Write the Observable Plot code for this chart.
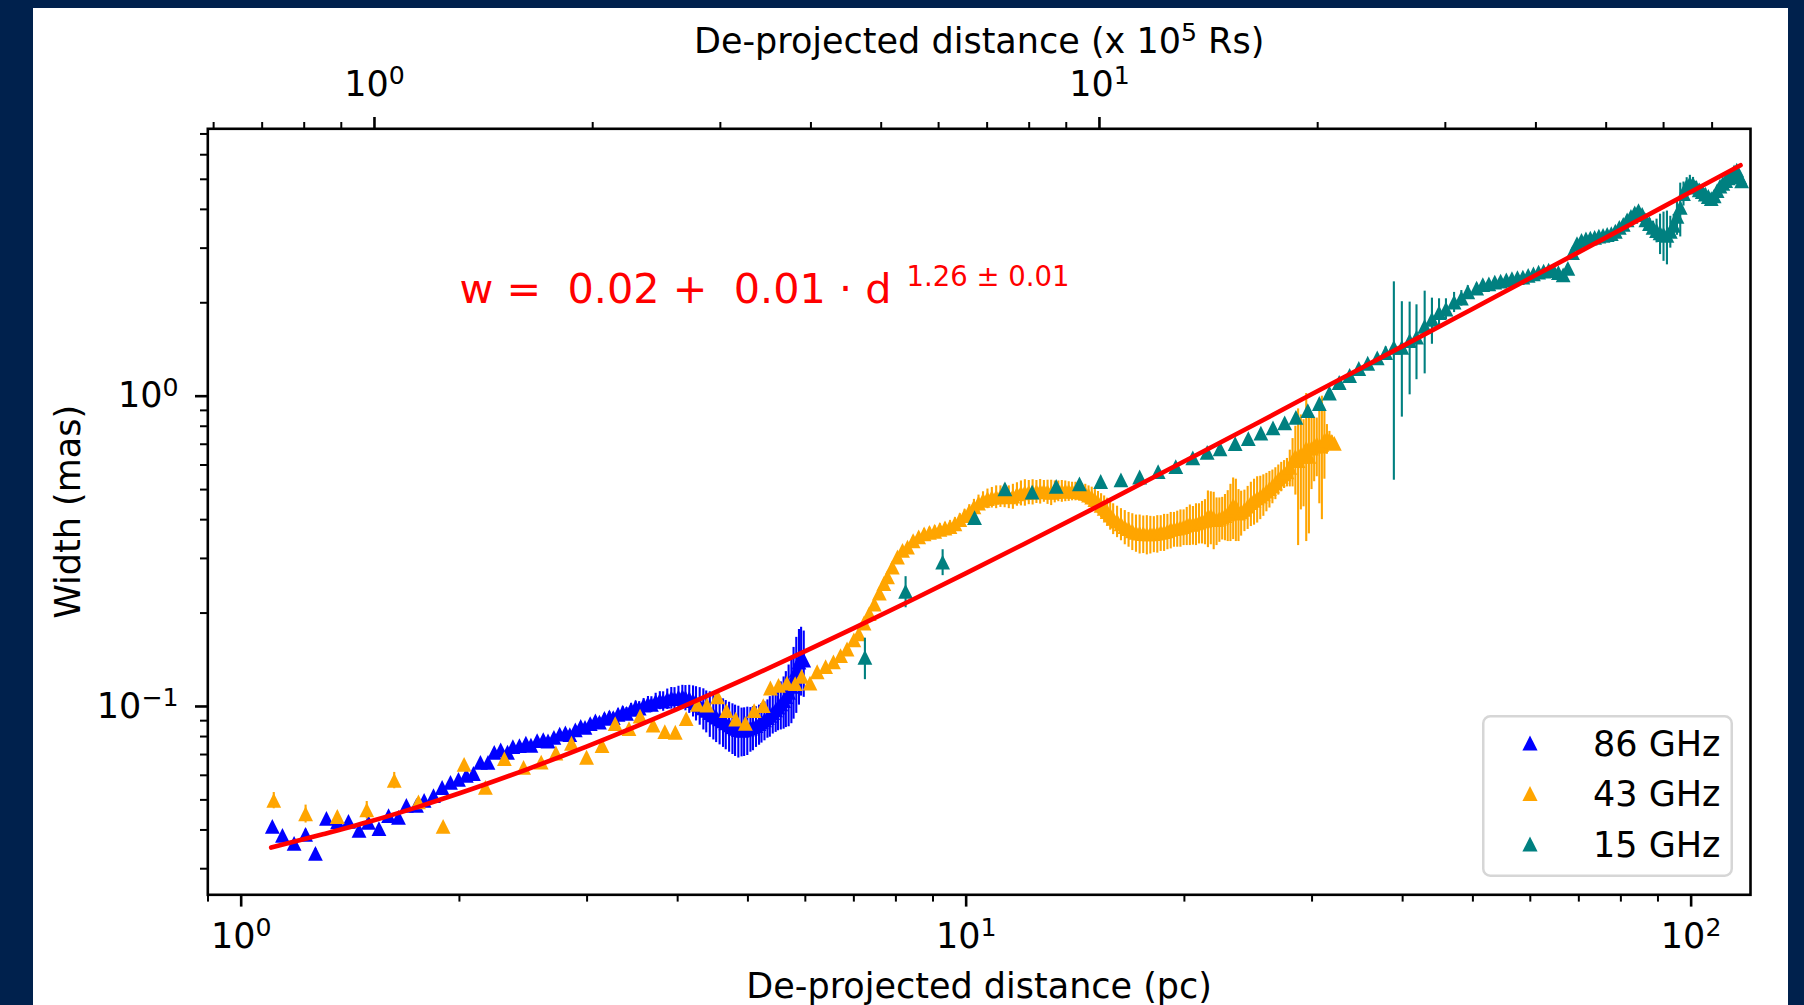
<!DOCTYPE html>
<html>
<head>
<meta charset="utf-8">
<title>Jet width vs de-projected distance</title>
<script src="https://cdn.jsdelivr.net/npm/d3@7"></script>
<script src="https://cdn.jsdelivr.net/npm/@observablehq/plot@0.6"></script>
<style>
  html, body { margin: 0; padding: 0; background: #00214d; overflow: hidden; }
  #wrap { position: relative; width: 1804px; height: 1005px; }
  #panel { position: absolute; left: 33px; top: 8px; width: 1755px; height: 997px; background: #ffffff; }
  #chart { position: absolute; left: 0; top: 0; }
  #legend { position: absolute; left: 1482px; top: 715px; }
</style>
</head>
<body>
<div id="wrap"><div id="panel"></div><div id="chart"></div><svg id="legend" width="251" height="162"></svg></div>
<script>
const FONT = "DejaVu Sans";
const seriesNames = ["86 GHz", "43 GHz", "15 GHz"];
const seriesColors = ["#0000ff", "#ffa500", "#008080"];
const fitColor = "#ff0000";

// ---- 86 GHz ----
const blueDist = [1.104,1.140,1.183,1.227,1.266,1.311,1.358,1.406,1.454,1.498,1.549,1.597,1.648,1.690,1.745,1.788,1.842,1.893,1.944,1.994,2.044,2.091,2.138,2.190,2.234,
  2.28,2.33,2.37,2.42,2.47,2.51,2.56,2.61,2.65,2.70,2.75,2.80,2.84,2.89,2.94,2.98,3.03,3.08,3.12,3.17,3.22,3.26,3.31,3.36,3.40,3.45,3.50,3.54,3.59,3.64,
  3.68,3.73,3.78,3.82,3.87,3.92,3.96,4.01,4.06,4.10,4.15,4.20,4.24,4.29,4.34,4.38,4.43,4.48,4.52,4.57,4.62,4.66,4.71,4.76,4.80,4.85,4.90,4.94,4.99,5.04,
  5.08,5.13,5.18,5.22,5.27,5.32,5.36,5.41,5.46,5.50,5.55,5.60,5.64,5.69,5.74,5.78,5.83,5.88,5.92,5.97];
const blueWidth = [0.0411,0.0384,0.0362,0.0387,0.0336,0.0436,0.0425,0.0426,0.0399,0.0423,0.0404,0.0445,0.0439,0.0480,0.0480,0.0498,0.0516,0.0548,0.0569,0.0582,0.0600,0.0608,0.0660,0.0660,0.0711,
  0.0725,0.0712,0.0742,0.0748,0.0762,0.0750,0.0776,0.0782,0.0774,0.0795,0.0815,0.0822,0.0812,0.0840,0.0862,0.0856,0.0880,0.0898,0.0890,0.0915,0.0926,0.0920,0.0944,0.0958,0.0950,0.0978,0.0995,0.0988,0.1010,0.1022,
  0.1015,0.1038,0.1046,0.1040,0.1058,0.1066,0.1060,0.1072,0.1075,0.1068,0.1060,0.1045,0.1028,0.1010,0.0990,0.0972,0.0955,0.0940,0.0925,0.0912,0.0898,0.0885,0.0872,0.0860,0.0850,0.0842,0.0838,0.0840,0.0845,0.0852,
  0.0860,0.0868,0.0880,0.0892,0.0905,0.0920,0.0936,0.0955,0.0975,0.0995,0.1020,0.1045,0.1075,0.1110,0.1160,0.1230,0.1310,0.1390,0.1440,0.1410];
const blueErr = [0.0012,0.0012,0.0012,0.0015,0.0012,0.0012,0.0012,0.0012,0.0012,0.0012,0.0012,0.0012,0.0012,0.0012,0.0012,0.0012,0.0012,0.0014,0.0014,0.0014,0.0015,0.0015,0.0015,0.0016,0.0016,
  0.0018,0.0018,0.0020,0.0020,0.0020,0.0020,0.0022,0.0022,0.0022,0.0024,0.0024,0.0025,0.0025,0.0026,0.0028,0.0028,0.0030,0.0030,0.0032,0.0034,0.0035,0.0036,0.0038,0.0040,0.0042,0.0044,0.0046,0.0048,0.0050,0.0055,
  0.0060,0.0065,0.0070,0.0075,0.0080,0.0085,0.0090,0.0090,0.0095,0.0100,0.0110,0.0120,0.0130,0.0140,0.0150,0.0150,0.0160,0.0160,0.0160,0.0160,0.0160,0.0160,0.0160,0.0160,0.0160,0.0160,0.0150,0.0150,0.0150,0.0140,
  0.0140,0.0130,0.0130,0.0130,0.0130,0.0130,0.0140,0.0140,0.0150,0.0160,0.0180,0.0200,0.0220,0.0250,0.0280,0.0320,0.0360,0.0380,0.0360,0.0340];

// ---- 43 GHz ----
const orangeDist = [1.109,1.227,1.357,1.490,1.626,1.756,1.899,2.030,2.172,2.307,2.452,2.593,2.717,2.855,2.995,3.146,3.280,3.427,3.550,3.700,3.840,3.970,4.110,4.260,4.390,4.540,4.670,4.810,4.960,5.100,5.250,5.370,5.510,5.660,5.810,5.930,6.090,6.230,6.400,6.560,6.710,6.850,7.000,7.110,7.230,7.350,7.470,7.590,7.700,7.790,7.910,8.040,8.170,8.300,
  8.45,8.60,8.75,8.90,9.05,9.20,9.35,9.50,9.65,9.80,9.95,10.10,10.25,10.40,10.55,10.70,10.85,11.00,11.15,11.30,11.45,11.60,11.75,11.90,12.05,12.20,12.35,12.50,12.65,12.80,12.95,13.10,13.25,13.40,13.55,13.70,13.85,14.00,14.15,14.30,14.45,14.60,14.75,14.90,15.05,15.20,15.35,15.50,15.65,15.80,15.95,
  16.15,16.35,16.55,16.75,16.95,17.15,17.35,17.55,17.75,17.95,18.15,18.35,18.55,18.75,18.95,19.15,19.35,19.55,19.75,19.95,20.15,20.35,20.55,20.75,20.95,21.15,21.35,21.55,21.75,21.95,22.15,22.35,22.55,22.75,22.95,23.15,23.35,23.55,23.75,23.95,
  24.20,24.45,24.70,24.95,25.20,25.45,25.70,25.95,26.20,26.45,26.70,26.95,27.20,27.45,27.70,27.95,28.20,28.45,28.70,28.95,29.20,29.45,29.70,29.95,30.20,30.45,30.70,30.95,31.20,31.45,31.70,31.95,32.20];
const orangeWidth = [0.0498,0.0451,0.0442,0.0464,0.0578,0.0493,0.0411,0.0651,0.0549,0.0679,0.0636,0.0662,0.0708,0.0761,0.0686,0.0748,0.0881,0.0848,0.0931,0.0871,0.0830,0.0826,0.0914,0.1015,0.1010,0.1073,0.0969,0.0910,0.0883,0.0969,0.1006,0.1147,0.1170,0.1190,0.1185,0.1250,0.1190,0.1294,0.1344,0.1393,0.1459,0.1532,0.1640,0.1715,0.1858,0.1992,0.2138,0.2319,0.2491,0.2616,0.2814,0.3032,0.3183,0.3260,
  0.342,0.352,0.360,0.364,0.367,0.372,0.376,0.380,0.388,0.400,0.412,0.425,0.440,0.452,0.462,0.468,0.472,0.474,0.476,0.479,0.474,0.476,0.484,0.488,0.490,0.491,0.492,0.493,0.494,0.495,0.492,0.490,0.493,0.495,0.495,0.495,0.494,0.494,0.494,0.493,0.490,0.486,0.480,0.473,0.464,0.455,0.445,0.435,0.425,0.414,0.404,
  0.396,0.388,0.380,0.374,0.368,0.364,0.362,0.361,0.360,0.360,0.361,0.362,0.364,0.366,0.368,0.372,0.374,0.376,0.378,0.380,0.384,0.388,0.386,0.390,0.392,0.396,0.398,0.410,0.412,0.405,0.400,0.404,0.408,0.412,0.418,0.430,0.445,0.440,0.420,0.424,
  0.432,0.442,0.454,0.462,0.470,0.476,0.484,0.494,0.504,0.514,0.526,0.540,0.552,0.562,0.570,0.590,0.620,0.640,0.620,0.650,0.640,0.680,0.640,0.680,0.690,0.700,0.690,0.700,0.720,0.730,0.720,0.715,0.705];
const orangeErr = [0.0030,0.0030,0.0015,0.0030,0.0035,0.0015,0.0012,0.0015,0.0012,0.0015,0.0012,0.0015,0.0015,0.0015,0.0015,0.0015,0.0020,0.0020,0.0020,0.0015,0.0015,0.0015,0.0015,0.0015,0.0015,0.0015,0.0015,0.0015,0.0015,0.0015,0.0015,0.0020,0.0020,0.0020,0.0020,0.0020,0.0020,0.0020,0.0020,0.0020,0.0020,0.0025,0.0025,0.0030,0.0030,0.0030,0.0035,0.0040,0.0040,0.0045,0.0050,0.0050,0.0060,0.0060,
  0.012,0.012,0.014,0.014,0.015,0.016,0.016,0.017,0.018,0.018,0.020,0.022,0.025,0.028,0.030,0.034,0.036,0.040,0.038,0.042,0.040,0.044,0.042,0.045,0.048,0.044,0.046,0.042,0.045,0.040,0.044,0.046,0.040,0.038,0.040,0.038,0.036,0.034,0.034,0.032,0.032,0.034,0.034,0.036,0.036,0.038,0.040,0.042,0.044,0.044,0.046,
  0.046,0.046,0.048,0.048,0.050,0.050,0.052,0.050,0.052,0.050,0.048,0.050,0.048,0.050,0.048,0.050,0.048,0.050,0.052,0.050,0.054,0.058,0.055,0.060,0.058,0.062,0.066,0.085,0.080,0.085,0.070,0.066,0.064,0.070,0.078,0.090,0.100,0.100,0.080,0.070,
  0.066,0.070,0.074,0.078,0.080,0.076,0.074,0.070,0.068,0.064,0.062,0.060,0.060,0.058,0.060,0.080,0.110,0.160,0.290,0.220,0.200,0.340,0.280,0.180,0.160,0.150,0.240,0.300,0.180,0.080,0.050,0.030,0.020];

// ---- 15 GHz ----
const tealDist = [7.25,8.25,9.28,10.27,11.31,12.33,13.31,14.33,15.33,16.35,17.35,18.40,19.46,20.54,21.50,22.40,23.50,24.50,25.50,26.50,27.50,28.50,29.60,30.70,31.70,32.70,33.80,34.80,35.80,36.90,37.90,38.90,39.90,40.90,41.80,42.90,43.90,44.90,45.90,47.10,48.20,49.20,
  50.6,51.6,52.6,53.6,54.6,55.6,56.6,57.6,58.6,59.6,60.6,61.6,62.6,63.6,64.6,65.6,66.6,67.6,68.6,69.6,70.6,71.6,72.6,73.6,74.6,75.6,76.6,77.6,78.6,79.6,
  80.6,81.6,82.6,83.6,84.6,85.6,86.6,87.6,88.6,89.6,90.6,91.6,92.6,93.6,94.6,95.6,96.6,97.6,98.6,99.6,100.6,101.6,102.6,103.6,104.6,105.6,106.6,107.6,108.6,109.6,
  110.6,111.6,112.6,113.6,114.6,115.6,116.6,117.4];
const tealWidth = [0.144,0.235,0.292,0.406,0.503,0.491,0.512,0.522,0.531,0.537,0.549,0.571,0.593,0.633,0.659,0.676,0.703,0.730,0.760,0.790,0.820,0.854,0.899,0.947,1.024,1.107,1.166,1.228,1.277,1.329,1.381,1.436,1.436,1.510,1.550,1.680,1.770,1.860,1.910,2.010,2.070,2.170,
  2.23,2.29,2.30,2.33,2.35,2.37,2.39,2.41,2.42,2.45,2.48,2.51,2.53,2.55,2.54,2.50,2.46,2.58,2.90,3.10,3.18,3.21,3.23,3.25,3.28,3.30,3.32,3.34,3.40,3.50,
  3.58,3.70,3.80,3.90,3.96,3.85,3.70,3.60,3.50,3.42,3.36,3.32,3.30,3.40,3.55,3.80,4.06,4.50,4.76,4.85,4.82,4.72,4.62,4.56,4.48,4.40,4.33,4.42,4.60,4.75,
  4.85,4.95,5.05,5.15,5.28,5.35,5.10,4.94];
const tealErr = [0.022,0.027,0.028,0.012,0.008,0.008,0.006,0.006,0.006,0.006,0.006,0.008,0.008,0.010,0.010,0.010,0.012,0.012,0.012,0.014,0.014,0.016,0.018,0.020,0.022,0.025,0.030,0.030,0.035,0.040,0.060,0.900,0.580,0.500,0.420,0.500,0.300,0.200,0.150,0.150,0.120,0.100,
  0.08,0.07,0.06,0.05,0.05,0.05,0.05,0.05,0.05,0.05,0.05,0.05,0.06,0.06,0.06,0.06,0.07,0.08,0.08,0.08,0.06,0.06,0.06,0.06,0.06,0.06,0.06,0.06,0.07,0.08,
  0.09,0.10,0.10,0.12,0.12,0.12,0.12,0.14,0.16,0.30,0.50,0.60,0.65,0.40,0.30,0.50,0.80,0.40,0.30,0.30,0.25,0.20,0.20,0.20,0.18,0.15,0.15,0.15,0.15,0.15,
  0.12,0.12,0.12,0.12,0.10,0.10,0.10,0.10];

// ---- fitted power law ----
const fitDist  = [1.1, 1.3, 1.5, 1.75, 2, 2.5, 3, 3.5, 4, 5, 6, 7, 8.5, 10, 12, 15, 20, 25, 30, 40, 50, 60, 70, 85, 100, 117];
const fitWidth = [0.0351,0.0388,0.0425,0.0474,0.0525,0.0632,0.0744,0.0861,0.0983,0.1238,0.1507,0.1788,0.2229,0.269,0.3334,0.435,0.617,0.8105,1.016,1.450,1.914,2.402,2.913,3.717,4.556,5.549];

// ---- annotation ----
const eqText = "w =  0.02 +  0.01 · d";
const eqExponent = "1.26 ± 0.01";
const eqAnchor = [{dist: 2, width: 2}];

// ---- axes ----
const xMajorTicks = [1, 10, 100];
const xMajorLabels = ["10^{0}", "10^{1}", "10^{2}"];
const xMinorTicks = [0.9, 2, 3, 4, 5, 6, 7, 8, 9, 20, 30, 40, 50, 60, 70, 80, 90];
const yMajorTicks = [0.1, 1];
const yMajorLabels = ["10^{\u22121}", "10^{0}"];
const yMinorTicks = [0.03, 0.04, 0.05, 0.06, 0.07, 0.08, 0.09, 0.2, 0.3, 0.4, 0.5, 0.6, 0.7, 0.8, 0.9, 2, 3, 4, 5, 6, 7];
const topMajorTicks = [1, 10];            // in units of 10^5 Rs
const topMajorLabels = ["10^{0}", "10^{1}"];
const topMinorTicks = [0.6, 0.7, 0.8, 0.9, 2, 3, 4, 5, 6, 7, 8, 9, 20, 30, 40, 50, 60, 70];
const pcPerTopUnit = 1.527;              // top-axis unit expressed in pc
const xDomain = [0.8994, 120.75];
const yDomain = [0.02472, 7.273];
const xTitle = "De-projected distance (pc)";
const topTitle = "De-projected distance (x 10^{5} Rs)";
const yTitle = "Width (mas)";

function table(d, w, e) {
  return d.map((x, i) => ({x, y: w[i], lo: w[i] - e[i], hi: w[i] + e[i]}));
}
const series = [
  table(blueDist, blueWidth, blueErr),
  table(orangeDist, orangeWidth, orangeErr),
  table(tealDist, tealWidth, tealErr)
];
const fit = fitDist.map((x, i) => ({x, y: fitWidth[i]}));

const tri = {
  draw(ctx, size) {
    const s = Math.sqrt(size / Math.PI);
    ctx.moveTo(0, -s); ctx.lineTo(s, s); ctx.lineTo(-s, s); ctx.closePath();
  }
};

const marks = [];
series.forEach((data, k) => {
  marks.push(Plot.ruleX(data, {x: "x", y1: "lo", y2: "hi", stroke: seriesColors[k], strokeWidth: 2.1}));
  marks.push(Plot.dot(data, {x: "x", y: "y", symbol: tri, r: 7.4, fill: seriesColors[k]}));
});
marks.push(Plot.line(fit, {x: "x", y: "y", stroke: fitColor, strokeWidth: 4.6, curve: "monotone-x"}));

marks.push(Plot.text(eqAnchor, {x: "dist", y: "width", text: () => eqText, textAnchor: "start", lineAnchor: "bottom", fontSize: 41.4, fill: fitColor}));
marks.push(Plot.text(eqAnchor, {x: "dist", y: "width", text: () => eqExponent, textAnchor: "start", lineAnchor: "bottom", fontSize: 27.5, fill: fitColor, dx: 447, dy: -16.7}));

marks.push(Plot.frame({stroke: "black", strokeWidth: 2.6}));

const fmt = (ticks, labels) => (d) => labels[ticks.indexOf(d)];
marks.push(Plot.axisX(xMinorTicks, {anchor: "bottom", tickSize: 7.3, tickFormat: () => "", strokeWidth: 2, label: null}));
marks.push(Plot.axisX(xMajorTicks, {anchor: "bottom", tickSize: 12.3, tickPadding: 16, tickFormat: fmt(xMajorTicks, xMajorLabels), fontSize: 35, strokeWidth: 2.6, label: null}));
const topMajorPc = topMajorTicks.map(v => v * pcPerTopUnit);
marks.push(Plot.axisX(topMinorTicks.map(v => v * pcPerTopUnit), {anchor: "top", tickSize: 7.3, tickFormat: () => "", strokeWidth: 2, label: null}));
marks.push(Plot.axisX(topMajorPc, {anchor: "top", tickSize: 12.3, tickPadding: 21, tickFormat: fmt(topMajorPc, topMajorLabels), fontSize: 35, strokeWidth: 2.6, label: null}));
marks.push(Plot.axisY(yMinorTicks, {anchor: "left", tickSize: 7.3, tickFormat: () => "", strokeWidth: 2, label: null}));
marks.push(Plot.axisY(yMajorTicks, {anchor: "left", tickSize: 12.3, tickPadding: 17, tickFormat: fmt(yMajorTicks, yMajorLabels), fontSize: 35, strokeWidth: 2.6, label: null}));

marks.push(Plot.text([xTitle], {frameAnchor: "bottom", dy: 103, lineAnchor: "bottom", textAnchor: "middle", fontSize: 35, fill: "black"}));
marks.push(Plot.text([topTitle], {frameAnchor: "top", dy: -76.3, lineAnchor: "bottom", textAnchor: "middle", fontSize: 35, fill: "black"}));
marks.push(Plot.text([yTitle], {frameAnchor: "left", dx: -139.3, rotate: -90, textAnchor: "middle", lineAnchor: "middle", fontSize: 35, fill: "black"}));

const chart = Plot.plot({
  width: 1804, height: 1005,
  marginLeft: 207.3, marginRight: 54, marginTop: 128.3, marginBottom: 110.7,
  x: {type: "log", domain: xDomain},
  y: {type: "log", domain: yDomain},
  style: {fontFamily: FONT, fontSize: "35px", color: "black", background: "transparent", overflow: "visible"},
  marks
});
document.getElementById("chart").append(chart);

// turn "base^{exp}rest" strings into real superscripts (mathtext-like)
const SVGNS = "http://www.w3.org/2000/svg";
chart.querySelectorAll("text").forEach((t) => {
  const s = t.textContent;
  const m = s.match(/^(.*?)\^\{(.*?)\}(.*)$/);
  if (!m) return;
  const fs = parseFloat(getComputedStyle(t).fontSize) || 35;
  t.textContent = m[1];
  const sup = document.createElementNS(SVGNS, "tspan");
  sup.setAttribute("dy", (-0.33 * fs).toFixed(2));
  sup.style.fontSize = (0.72 * fs).toFixed(2) + "px";
  sup.textContent = m[2];
  t.appendChild(sup);
  if (m[3]) {
    const rest = document.createElementNS(SVGNS, "tspan");
    rest.setAttribute("dy", (0.33 * fs).toFixed(2));
    rest.style.fontSize = fs + "px";
    rest.textContent = m[3];
    t.appendChild(rest);
  }
});

// ---- legend ----
const leg = d3.select("#legend");
leg.append("rect").attr("x", 1.25).attr("y", 1.25).attr("width", 248.5).attr("height", 159.5)
  .attr("rx", 7).attr("fill", "white").attr("stroke", "#d6d6d6").attr("stroke-width", 2.5);
seriesNames.forEach((name, i) => {
  const cy = 28 + i * 50.5;
  leg.append("path").attr("transform", `translate(48,${cy})`)
    .attr("d", "M0,-7.6L7.6,7.6L-7.6,7.6Z").attr("fill", seriesColors[i]);
  leg.append("text").attr("x", 111).attr("y", cy + 12.5).attr("font-family", FONT).attr("font-size", 35)
    .attr("fill", "black").text(name);
});
</script>
</body>
</html>
